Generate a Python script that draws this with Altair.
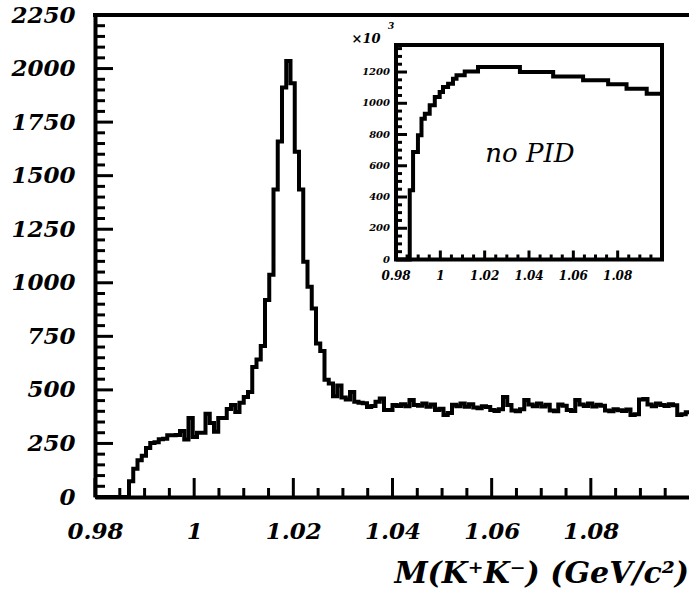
import altair as alt
import pandas as pd

# ---------------- data ----------------
# main histogram: 140 bins from 0.98 to 1.10 GeV/c^2
M_LO, M_HI, N_BINS = 0.98, 1.10, 140
main_counts = [
    0, 0, 0, 0, 0, 0, 0, 0,
    73, 132, 171, 192, 229, 252, 255, 270, 272, 288, 288, 290,
    308, 268, 369, 280, 300, 300, 389, 345, 305, 369, 369, 411, 430, 397,
    440, 467, 490, 607, 642, 705, 920, 1037, 1435, 1659, 1911, 2035,
    1931, 1612, 1435, 1098, 981, 880, 716, 682, 547, 530, 470, 520,
    465, 455, 490, 445, 440, 438, 420, 425, 445, 460,
    406, 406, 430, 425, 433, 424, 453, 430, 426, 436, 421, 432,
    406, 412, 383, 392, 431, 424, 436, 421, 433, 418, 414, 424,
    420, 406, 401, 410, 467, 430, 404, 400, 410, 453, 432, 424,
    436, 423, 431, 404, 400, 432, 426, 406, 401, 453, 432, 425,
    436, 422, 431, 426, 404, 400, 410, 405, 402, 409, 383, 386,
    455, 457, 432, 424, 436, 430, 425, 433, 428, 383, 386, 396,
]

# inset ("no PID") histogram, as drawn: step edges and heights (x10^3)
inset_edges = [0.98, 0.9862, 0.9877, 0.9899, 0.9915, 0.9930, 0.9952, 0.9975,
               0.9997, 1.0012, 1.0035, 1.0057, 1.0073, 1.0110, 1.0170, 1.0359,
               1.0509, 1.0644, 1.0757, 1.0840, 1.0931, 1.10]
inset_counts = [0, 443, 688, 795, 901, 933, 987, 1040, 1072, 1104, 1125, 1157,
                1179, 1204, 1232, 1200, 1172, 1147, 1121, 1093, 1061]

# axis ticks / labels
main_x_major = [0.98, 1.00, 1.02, 1.04, 1.06, 1.08]
main_x_minor = [0.985, 0.99, 0.995, 1.005, 1.01, 1.015, 1.025, 1.03, 1.035,
                1.045, 1.05, 1.055, 1.065, 1.07, 1.075, 1.085, 1.09, 1.095]
main_y_major = [0, 250, 500, 750, 1000, 1250, 1500, 1750, 2000, 2250]
main_y_minor = [v for v in range(50, 2250, 50) if v % 250]

inset_x_major = [0.98, 1.00, 1.02, 1.04, 1.06, 1.08]
inset_x_labels = ["0.98", "1", "1.02", "1.04", "1.06", "1.08"]
inset_x_minor = [0.985, 0.99, 0.995, 1.005, 1.01, 1.015, 1.025, 1.03, 1.035,
                 1.045, 1.05, 1.055, 1.065, 1.07, 1.075, 1.085, 1.09, 1.095]
inset_y_major = [0, 200, 400, 600, 800, 1000, 1200]
inset_y_minor = [v for v in range(50, 1373, 50) if v % 200]

# ---------------- layout ----------------
W, H = 594, 482
FONT = "DejaVu Serif"
X_MAX = 1.0998
IN_X_RANGE = [301, 567]
IN_Y_RANGE = [244.5, 30]
IN_Y_MAX = 1373

bin_w = (M_HI - M_LO) / N_BINS
main_df = pd.DataFrame({
    "m": [M_LO + i * bin_w for i in range(N_BINS)] + [M_HI],
    "c": main_counts + [main_counts[-1]],
})
inset_df = pd.DataFrame({
    "m": inset_edges,
    "c": inset_counts + [inset_counts[-1]],
})

xs = alt.Scale(domain=[M_LO, X_MAX], nice=False, zero=False)
ys = alt.Scale(domain=[0, 2250], nice=False, zero=False)
xs_in = alt.Scale(domain=[0.98, 1.10], range=IN_X_RANGE, nice=False, zero=False)
ys_in = alt.Scale(domain=[0, IN_Y_MAX], range=IN_Y_RANGE, nice=False, zero=False)

lab = dict(labelFont=FONT, labelFontStyle="italic", labelFontSize=23,
           labelFontWeight="bold",
           labelColor="black", labelFlush=False, labelOverlap=False,
           ticks=False, grid=False, title=None,
           domain=True, domainColor="black", domainWidth=4)

main_line = alt.Chart(main_df).mark_line(
    interpolate="step-after", color="black", strokeWidth=4
).encode(
    x=alt.X("m:Q", scale=xs, axis=alt.Axis(values=main_x_major, format="~g",
                                            labelPadding=23, orient="bottom", **lab)),
    y=alt.Y("c:Q", scale=ys, axis=alt.Axis(values=main_y_major, format="d",
                                            labelPadding=20, orient="left", **lab)),
)


def yticks(vals, scale, x0, length):
    return alt.Chart(pd.DataFrame({"v": vals})).mark_rule(
        color="black", strokeWidth=3
    ).encode(y=alt.Y("v:Q", scale=scale, axis=None),
             x=alt.value(x0), x2=alt.value(x0 + length))


def xticks(vals, scale, y0, length):
    return alt.Chart(pd.DataFrame({"v": vals})).mark_rule(
        color="black", strokeWidth=3
    ).encode(x=alt.X("v:Q", scale=scale, axis=None),
             y=alt.value(y0), y2=alt.value(y0 - length))


top_rule = alt.Chart(pd.DataFrame({"a": [0]})).mark_rule(
    color="black", strokeWidth=4
).encode(x=alt.value(-2), x2=alt.value(W), y=alt.value(0))


def label(txt, x, y, size, align="center", baseline="middle", weight="normal"):
    return alt.Chart(pd.DataFrame({"t": [txt]})).mark_text(
        font=FONT, fontStyle="italic", fontSize=size, color="black",
        fontWeight=weight, align=align, baseline=baseline
    ).encode(text="t:N", x=alt.value(x), y=alt.value(y))


title = label("M(K\u207aK\u207b) (GeV/c\u00b2)", W, 568, 30, align="right",
              baseline="alphabetic", weight="bold")

# ---------------- inset ----------------
frame = alt.Chart(pd.DataFrame({"x0": [0.98], "x1": [1.10], "y0": [0], "y1": [IN_Y_MAX]})).mark_rect(
    fill="white", stroke="black", strokeWidth=4
).encode(
    x=alt.X("x0:Q", scale=xs_in, axis=None), x2="x1:Q",
    y=alt.Y("y0:Q", scale=ys_in, axis=None), y2="y1:Q",
)

inset_line = alt.Chart(inset_df).mark_line(
    interpolate="step-after", color="black", strokeWidth=4
).encode(
    x=alt.X("m:Q", scale=xs_in, axis=None),
    y=alt.Y("c:Q", scale=ys_in, axis=None),
)

inset_ylab = alt.Chart(pd.DataFrame({"v": inset_y_major,
                                     "t": [str(v) for v in inset_y_major]})).mark_text(
    font=FONT, fontStyle="italic", fontSize=10, fontWeight="bold", color="black",
    align="right", baseline="middle"
).encode(y=alt.Y("v:Q", scale=ys_in, axis=None), x=alt.value(IN_X_RANGE[0] - 6), text="t:N")

inset_xlab = alt.Chart(pd.DataFrame({"v": inset_x_major, "t": inset_x_labels})).mark_text(
    font=FONT, fontStyle="italic", fontSize=12, fontWeight="bold", color="black",
    align="center", baseline="top"
).encode(x=alt.X("v:Q", scale=xs_in, axis=None), y=alt.value(IN_Y_RANGE[0] + 11), text="t:N")

chart = alt.layer(
    main_line,
    yticks(main_y_major, ys, 0, 18),
    yticks(main_y_minor, ys, 0, 10),
    xticks(main_x_major, xs, H, 19),
    xticks(main_x_minor, xs, H, 9),
    top_rule,
    title,
    frame,
    inset_line,
    yticks(inset_y_major, ys_in, IN_X_RANGE[0], 11),
    yticks(inset_y_minor, ys_in, IN_X_RANGE[0], 6),
    xticks(inset_x_major, xs_in, IN_Y_RANGE[0], 9),
    xticks(inset_x_minor, xs_in, IN_Y_RANGE[0], 5),
    inset_ylab,
    inset_xlab,
    label("\u00d710", 271, 24, 13, weight="bold"),
    label("3", 296, 11, 9, weight="bold"),
    label("no PID", 435, 139, 26),
).resolve_scale(
    x="independent", y="independent"
).properties(
    width=W, height=H,
    padding={"left": 95, "top": 15, "right": 0, "bottom": 93},
    autosize=alt.AutoSizeParams(type="none"),
).configure_view(stroke=None)

chart.save("out.html", embed_options={"renderer": "svg", "actions": False})
